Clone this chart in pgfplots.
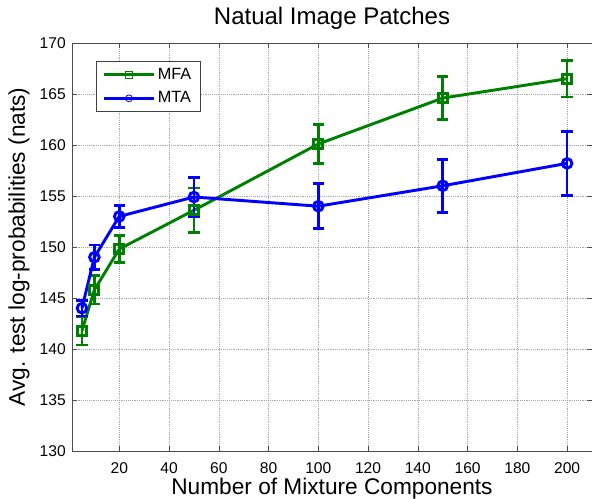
\documentclass[border=0pt]{standalone}
\usepackage{fontspec}
\setmainfont{Liberation Sans}
\usepackage{pgfplots}
\pgfplotsset{compat=1.18}
\definecolor{mgreen}{RGB}{0,128,0}
\definecolor{mblue}{RGB}{0,0,255}

\begin{document}
\begin{tikzpicture}
\begin{axis}[
    scale only axis,
    width=390pt, height=306pt,
    xmin=1, xmax=210,
    ymin=130, ymax=170,
    xtick={20,40,...,200},
    ytick={130,135,...,170},
    /pgf/number format/assume math mode=true,
    tick label style={font=\fontsize{11.7}{13}\selectfont},
    xticklabel style={anchor=north, inner sep=0pt, yshift=-8.25pt},
    yticklabel style={anchor=east, inner sep=0pt, xshift=-4.5pt},
    title={Natual Image Patches},
    title style={font=\fontsize{18}{20}\selectfont, at={(axis description cs:0.5,1)},
        anchor=base, inner sep=0pt, yshift=7.5pt},
    xlabel={Number of Mixture Components},
    ylabel={Avg. test log-probabilities (nats)},
    label style={font=\fontsize{17}{19}\selectfont},
    xlabel style={at={(axis description cs:0.5,-0.1078)}, anchor=base, inner sep=0pt},
    ylabel style={at={(axis description cs:-0.0904,0.5)}, anchor=base, inner sep=0pt},
    grid=major,
    major grid style={gray!70, densely dotted, line width=0.4pt},
    axis line style={gray!60!black, line width=0.6pt},
    tick align=inside,
    major tick length=4pt,
    tick style={gray!60!black},
    legend style={at={(0.046,0.956)}, anchor=north west, draw=gray!50!black,
        font=\fontsize{12.2}{14}\selectfont, row sep=4pt,
        inner xsep=5pt, inner ysep=3pt, nodes={inner sep=2pt}},
    legend cell align=left,
    legend image code/.code={
        \draw[#1, line width=2.2pt, mark=none] (0pt,0pt) -- (37pt,0pt);
        \draw[#1, line width=0.6pt, mark size=2.6pt] plot coordinates {(18.5pt,0pt)};
    },
]
\addplot[mgreen, line width=2.2pt, mark=square, mark size=3.4pt,
    error bars/.cd, y dir=both, y explicit,
    error bar style={line width=2pt},
    error mark options={rotate=90, mark size=4.3pt, line width=2pt}]
    coordinates {
    (5,141.8) +- (0,1.4)
    (10,145.8) +- (0,1.4)
    (20,149.8) +- (0,1.35)
    (50,153.6) +- (0,2.2)
    (100,160.1) +- (0,1.9)
    (150,164.6) +- (0,2.1)
    (200,166.5) +- (0,1.8)
};
\addplot[mblue, line width=2.2pt, mark=o, mark size=3.6pt,
    error bars/.cd, y dir=both, y explicit,
    error bar style={line width=2pt},
    error mark options={rotate=90, mark size=4.3pt, line width=2pt}]
    coordinates {
    (5,144.0) +- (0,0.75)
    (10,149.0) +- (0,1.2)
    (20,153.0) +- (0,1.1)
    (50,154.9) +- (0,1.9)
    (100,154.0) +- (0,2.2)
    (150,156.0) +- (0,2.6)
    (200,158.2) +- (0,3.15)
};
\legend{MFA, MTA}
\coordinate (bl) at (rel axis cs:0,0);
\coordinate (tr) at (rel axis cs:1,1);
\end{axis}
\pgfresetboundingbox
\path ([shift={(-54pt,-36pt)}]bl) rectangle ([shift={(0pt,32.25pt)}]tr);
\end{tikzpicture}
\end{document}
